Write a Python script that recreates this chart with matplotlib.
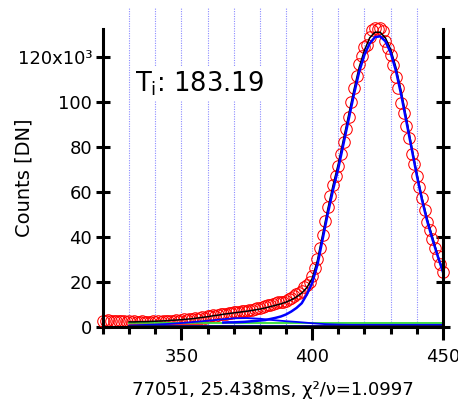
import matplotlib
matplotlib.use("Agg")
import matplotlib.pyplot as plt
import numpy as np

plt.rcParams.update({"font.family": ["DejaVu Sans"], "mathtext.fontset": "dejavusans"})

# measured spectrum (red circles), one point per unit
x_data = np.arange(320, 451)
y_data = [2.8, 2.7, 2.9, 2.6, 2.7, 2.5, 2.6, 2.4, 2.6, 2.3,
          2.4, 2.2, 2.5, 2.3, 2.1, 2.4, 2.2, 2.3, 2.0, 2.4,
          2.3, 2.5, 2.2, 2.6, 2.4, 2.8, 2.5, 2.7, 2.9, 2.8,
          3.0, 3.3, 3.1, 3.5, 3.4, 3.8, 3.6, 4.0, 4.2, 4.1,
          4.6, 4.8, 5.1, 5.0, 5.4, 5.6, 5.9, 5.8, 6.1, 6.3,
          6.4, 6.6, 6.5, 6.9, 7.0, 7.2, 7.5, 7.3, 7.8, 8.2,
          8.4, 8.9, 9.2, 9.8, 9.6, 10.1, 10.5, 10.9, 11.2, 11.0,
          11.5, 12.5, 13.0, 13.5, 14.5, 15.2, 16.0, 17.5, 18.5, 20.0,
          22.5, 26.0, 30.0, 35.0, 41.0, 47.0, 53.5, 58.0, 63.0, 67.0,
          71.5, 77.0, 82.0, 88.0, 93.5, 100.0, 106.0, 111.5, 117.0, 120.5,
          124.5, 125.5, 129.0, 132.0, 133.0, 132.5, 133.0, 131.5, 127.0, 124.0,
          121.0, 116.5, 111.0, 106.0, 99.5, 95.0, 89.5, 84.0, 77.0, 72.5,
          67.0, 62.0, 57.5, 52.0, 46.5, 43.0, 39.0, 35.0, 31.5, 28.0,
          24.5]

# total fit (black)
x_fit = np.arange(330, 451, 2)
y_fit = [2.2, 2.2, 2.3, 2.3, 2.4, 2.5, 2.6, 2.7, 2.9, 3.0,
         3.2, 3.4, 3.6, 3.9, 4.2, 4.5, 4.9, 5.2, 5.6, 5.9,
         6.2, 6.5, 6.8, 7.1, 7.5, 7.9, 8.4, 9.0, 9.6, 10.2,
         11.0, 12.0, 13.3, 15.0, 17.5, 21.5, 29.5, 41.0, 52.5, 63.0,
         72.5, 83.5, 94.5, 105.5, 115.5, 123.0, 128.5, 131.0, 131.0, 128.5,
         123.5, 115.5, 105.0, 93.0, 80.5, 68.5, 57.5, 48.0, 40.0, 32.0,
         25.0]

# main component (blue)
x_main = np.arange(366, 451, 2)
y_main = [1.9, 2.0, 2.0, 2.1, 2.2, 2.4, 2.6, 2.8, 3.0, 3.5,
          4.0, 4.6, 5.5, 6.8, 8.4, 10.5, 14.5, 19.5, 27.5, 39.0,
          50.5, 61.0, 70.5, 81.5, 92.5, 103.5, 113.5, 121.0, 126.0, 128.8,
          129.2, 127.0, 122.0, 114.0, 103.5, 91.5, 79.5, 67.5, 56.5, 47.0,
          39.0, 31.5, 24.5]

# second component (blue, small bump)
x_comp2 = np.arange(330, 451, 5)
y_comp2 = [0.6, 0.8, 1.0, 1.3, 1.7, 2.2, 2.7, 3.3, 3.8, 3.9,
           3.6, 3.0, 2.5, 2.1, 1.6, 1.2, 1.0, 0.9, 0.9, 0.9,
           0.9, 0.9, 0.9, 0.9, 0.9]

x_flat = [330, 450]
y_base = [1.8, 1.8]      # green baseline
y_floor = [0.4, 0.4]     # dark blue
x_red = [330, 358]
y_red = [1.3, 1.3]

grid_x = np.arange(330, 441, 10)

fig = plt.figure(figsize=(4.58, 4.04), dpi=100)
ax = fig.add_axes([0.225, 0.191, 0.742, 0.737])

ax.vlines(grid_x, 0, 141.8, colors="#8c8cff", lw=0.8, linestyles=(0, (1, 1.2)),
          clip_on=False, zorder=0)
ax.plot(x_data, y_data, "o", mfc="none", mec="#ff0000", ms=8.3, mew=0.75,
        clip_on=False, zorder=2)
ax.plot(x_flat, y_base, color="#33dd33", lw=1.3, zorder=3)
ax.plot(x_red, y_red, color="#ff3030", lw=1.0, zorder=3)
ax.plot(x_comp2, y_comp2, color="#0000ff", lw=1.3, zorder=3)
ax.plot(x_flat, y_floor, color="#101070", lw=2.2, zorder=3)
ax.plot(x_fit, y_fit, color="black", lw=1.1, zorder=4)
ax.plot(x_main, y_main, color="#0000ff", lw=1.8, zorder=5)

ax.set_xlim(320, 450)
ax.set_ylim(0, 132.4)
ax.spines["top"].set_visible(False)
for s in ["left", "right", "bottom"]:
    ax.spines[s].set_linewidth(2.2)
    ax.spines[s].set_zorder(6)

ax.set_xticks([350, 400, 450])
ax.set_xticks(np.arange(320, 451, 10), minor=True)
ax.tick_params(axis="x", which="major", direction="out", length=9, width=2.2,
               labelsize=13, pad=6)
ax.tick_params(axis="x", which="minor", direction="out", length=5, width=2.2)
ax.set_yticks(np.arange(0, 121, 20))
ax.set_yticklabels(["0", "20", "40", "60", "80", "100", "120x10³"])
ax.tick_params(axis="y", which="major", direction="inout", length=9.5, width=2.2,
               labelsize=13, right=True, pad=3)

ax.set_ylabel("Counts [DN]", fontsize=14)
ax.yaxis.set_label_coords(-0.205, 0.5)
ax.set_xlabel("77051, 25.438ms, χ²/ν=1.0997", fontsize=13, labelpad=11)

ax.text(0.095, 0.79, r"T$_\mathrm{i}$: 183.19", transform=ax.transAxes, fontsize=18.5,
        ha="left", va="baseline", zorder=7,
        bbox=dict(facecolor="white", edgecolor="none", pad=2))

fig.savefig("out.png", dpi=100)
